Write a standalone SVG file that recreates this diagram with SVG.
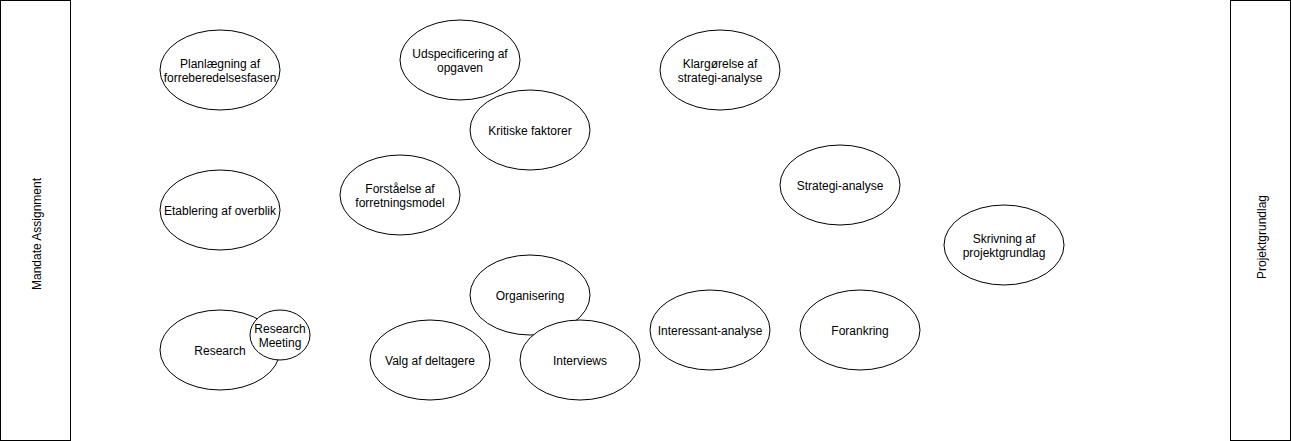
<svg xmlns="http://www.w3.org/2000/svg" width="1291" height="441" viewBox="0 0 1291 441">
<style>
.n{fill:#fff;stroke:#000;stroke-width:1}
.t{font-family:"Liberation Sans",Arial,Helvetica,sans-serif;font-size:12px;fill:#000;text-anchor:middle;dominant-baseline:central}
</style>
<rect width="1291" height="441" fill="#fff"/>
<g id="connectors"></g>
<g id="mandate"><rect class="n" x="0.5" y="0.5" width="70" height="440"/><text class="t" transform="translate(37,234) rotate(-90)">Mandate Assignment</text></g>
<g id="projektgrundlag"><rect class="n" x="1230.5" y="0.5" width="60" height="440"/><text class="t" transform="translate(1262,237) rotate(-90)">Projektgrundlag</text></g>
<g transform="translate(0,1)">
<g id="planlaegning"><ellipse class="n" cx="220" cy="69" rx="60" ry="40"/><text class="t" x="220" y="63">Planlægning af</text><text class="t" x="220" y="77">forreberedelsesfasen</text></g>
<g id="udspecificering"><ellipse class="n" cx="460" cy="59" rx="60" ry="40"/><text class="t" x="460" y="53">Udspecificering af</text><text class="t" x="460" y="67">opgaven</text></g>
<g id="kritiske"><ellipse class="n" cx="530" cy="129" rx="60" ry="40"/><text class="t" x="530" y="130">Kritiske faktorer</text></g>
<g id="klargoerelse"><ellipse class="n" cx="720" cy="69" rx="60" ry="40"/><text class="t" x="720" y="63">Klargørelse af</text><text class="t" x="720" y="77">strategi-analyse</text></g>
<g id="strategi"><ellipse class="n" cx="840" cy="184" rx="60" ry="40"/><text class="t" x="840" y="185">Strategi-analyse</text></g>
<g id="skrivning"><ellipse class="n" cx="1004" cy="244" rx="60" ry="40"/><text class="t" x="1004" y="238">Skrivning af</text><text class="t" x="1004" y="252">projektgrundlag</text></g>
<g id="etablering"><ellipse class="n" cx="220" cy="209" rx="60" ry="40"/><text class="t" x="220" y="210">Etablering af overblik</text></g>
<g id="forstaaelse"><ellipse class="n" cx="400" cy="194" rx="60" ry="40"/><text class="t" x="400" y="188">Forståelse af</text><text class="t" x="400" y="202">forretningsmodel</text></g>
<g id="organisering"><ellipse class="n" cx="530" cy="294" rx="60" ry="40"/><text class="t" x="530" y="295">Organisering</text></g>
<g id="research"><ellipse class="n" cx="220" cy="349" rx="60" ry="40"/><text class="t" x="220" y="350">Research</text></g>
<g id="research-meeting"><ellipse class="n" cx="280" cy="334" rx="30" ry="25"/><text class="t" x="280" y="328">Research</text><text class="t" x="280" y="342">Meeting</text></g>
<g id="valg"><ellipse class="n" cx="430" cy="359" rx="60" ry="40"/><text class="t" x="430" y="360">Valg af deltagere</text></g>
<g id="interviews"><ellipse class="n" cx="580" cy="359" rx="60" ry="40"/><text class="t" x="580" y="360">Interviews</text></g>
<g id="interessant"><ellipse class="n" cx="710" cy="329" rx="60" ry="40"/><text class="t" x="710" y="330">Interessant-analyse</text></g>
<g id="forankring"><ellipse class="n" cx="860" cy="329" rx="60" ry="40"/><text class="t" x="860" y="330">Forankring</text></g>
</g>
</svg>
